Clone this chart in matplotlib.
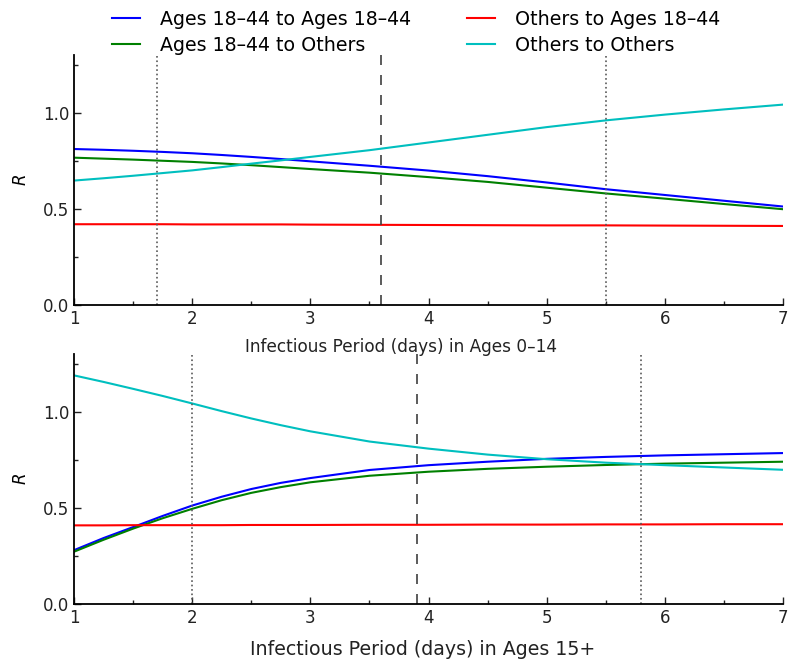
import numpy as np
import matplotlib
matplotlib.use("Agg")
import matplotlib.pyplot as plt
from matplotlib.ticker import MultipleLocator

# infectious period (days)
days = [1.0, 1.25, 1.5, 1.75, 2.0, 2.25, 2.5, 2.75, 3.0,
        3.5, 4.0, 4.5, 5.0, 5.5, 6.0, 6.5, 7.0]

# top panel: varying period in Ages 0-14
top_young_young = [0.811, 0.807, 0.802, 0.796, 0.789, 0.780, 0.770, 0.759, 0.747,
                   0.724, 0.699, 0.670, 0.637, 0.602, 0.572, 0.542, 0.512]
top_young_other = [0.766, 0.761, 0.756, 0.750, 0.744, 0.736, 0.727, 0.717, 0.707,
                   0.688, 0.665, 0.640, 0.610, 0.580, 0.553, 0.525, 0.498]
top_other_young = [0.420, 0.420, 0.420, 0.420, 0.419, 0.419, 0.419, 0.419, 0.418,
                   0.417, 0.416, 0.415, 0.414, 0.414, 0.413, 0.412, 0.411]
top_other_other = [0.647, 0.659, 0.672, 0.686, 0.700, 0.717, 0.735, 0.752, 0.770,
                   0.805, 0.845, 0.885, 0.925, 0.960, 0.990, 1.017, 1.042]

# bottom panel: varying period in Ages 15+
bot_young_young = [0.280, 0.343, 0.400, 0.458, 0.512, 0.558, 0.598, 0.630, 0.655,
                   0.697, 0.722, 0.740, 0.755, 0.765, 0.773, 0.779, 0.785]
bot_young_other = [0.272, 0.334, 0.392, 0.446, 0.495, 0.540, 0.578, 0.608, 0.633,
                   0.667, 0.688, 0.703, 0.714, 0.723, 0.730, 0.735, 0.740]
bot_other_young = [0.409, 0.409, 0.410, 0.410, 0.410, 0.410, 0.411, 0.411, 0.411,
                   0.412, 0.412, 0.413, 0.413, 0.414, 0.414, 0.415, 0.415]
bot_other_other = [1.189, 1.155, 1.119, 1.082, 1.043, 1.003, 0.965, 0.930, 0.898,
                   0.845, 0.808, 0.777, 0.753, 0.735, 0.722, 0.710, 0.698]

labels = ["Ages 18\u201344 to Ages 18\u201344", "Ages 18\u201344 to Others",
          "Others to Ages 18\u201344", "Others to Others"]
colors = ["#0000ff", "#008000", "#ff0000", "#00bfbf"]

# reference lines: (dotted low, dashed mid, dotted high)
top_vlines = [1.7, 3.6, 5.5]
bot_vlines = [2.0, 3.9, 5.8]

fig = plt.figure(figsize=(8, 6.68), dpi=100)
ax1 = fig.add_axes([0.0925, 0.5434, 0.8865, 0.3743])
ax2 = fig.add_axes([0.0925, 0.0958, 0.8865, 0.3742])
# keep the upper x label visible where it meets the lower panel
ax2.patch.set_visible(False)

panels = [
    (ax1, [top_young_young, top_young_other, top_other_young, top_other_other],
     top_vlines, "Infectious Period (days) in Ages 0\u201314", 12.2, 0.461, -0.13),
    (ax2, [bot_young_young, bot_young_other, bot_other_young, bot_other_other],
     bot_vlines, "Infectious Period (days) in Ages 15+", 13.7, 0.491, -0.145),
]

for ax, series, vl, xlab, xfs, xpos, ypos in panels:
    for ys, c, lab in zip(series, colors, labels):
        ax.plot(days, ys, color=c, lw=1.5, label=lab)
    ax.axvline(vl[0], color="0.35", ls=":", lw=1.2)
    ax.axvline(vl[1], color="0.25", ls="--", lw=1.2, dashes=(6, 6))
    ax.axvline(vl[2], color="0.35", ls=":", lw=1.2)
    ax.set_xlim(1, 7)
    ax.set_ylim(0, 1.3)
    ax.set_yticks([0.0, 0.5, 1.0])
    ax.xaxis.set_minor_locator(MultipleLocator(0.5))
    ax.yaxis.set_minor_locator(MultipleLocator(0.25))
    ax.spines["top"].set_visible(False)
    ax.spines["right"].set_visible(False)
    ax.spines["left"].set_linewidth(1.3)
    ax.spines["bottom"].set_linewidth(1.3)
    ax.tick_params(which="both", direction="in", top=False, right=False, labelsize=12, colors="#222222")
    ax.tick_params(which="major", length=5, width=1)
    ax.tick_params(which="minor", length=3, width=1)
    ax.set_xlabel(xlab, fontsize=xfs, color="#222222")
    ax.xaxis.set_label_coords(xpos, ypos)
    ax.set_ylabel("$R$", fontsize=12)
    ax.yaxis.set_label_coords(-0.062, 0.5)

h, l = ax1.get_legend_handles_labels()
fig.legend(h, l, loc="upper center", bbox_to_anchor=(0.52, 1.0), ncol=2,
           frameon=False, fontsize=13.7, handlelength=1.5, handletextpad=1.05,
           columnspacing=2.9, labelspacing=0.4, borderaxespad=0.1)

fig.savefig("out.png", dpi=100)
